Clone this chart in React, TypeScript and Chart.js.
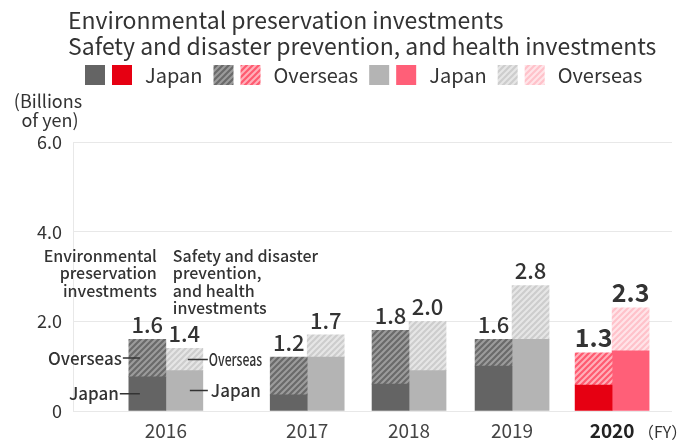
import React, { useEffect, useRef } from 'react';
import { Chart, registerables, CategoryScale } from 'chart.js';

Chart.register(...registerables);

// ---------------- data ----------------
const years = ['2016', '2017', '2018', '2019', '2020'];
const envJapan = [0.76, 0.36, 0.6, 1.0, 0.58];
const envOverseas = [0.84, 0.84, 1.2, 0.6, 0.72];
const safetyJapan = [0.9, 1.2, 0.9, 1.6, 1.34];
const safetyOverseas = [0.5, 0.5, 1.1, 1.2, 0.96];
const yTickValues = [0, 2, 4, 6];
const titleLines = [
  'Environmental preservation investments',
  'Safety and disaster prevention, and health investments',
];
const legendLabels = ['Japan', 'Overseas', 'Japan', 'Overseas'];
const envAnnotation = ['Environmental', 'preservation', 'investments'];
const safetyAnnotation = ['Safety and disaster', 'prevention,', 'and health', 'investments'];
const unitLines = ['(Billions', 'of yen)'];
const fyLabel = '（FY）';
const highlightIndex = years.length - 1;

// ---------------- layout / style ----------------
const FONT = "'Noto Sans CJK JP', 'Noto Sans', sans-serif";
const CATEGORY_POS = [0.155, 0.391, 0.561, 0.733, 0.9];

class SpacedCategoryScale extends CategoryScale {
  static id = 'spacedCategory';
  getPixelForValue(value: any) {
    if (typeof value !== 'number') value = (this as any).parse(value);
    if (value === null || value === undefined || isNaN(value)) return NaN;
    const i = Math.round(value);
    const pos = CATEGORY_POS[i] !== undefined ? CATEGORY_POS[i] : i / (years.length - 1);
    return this.getPixelForDecimal(pos);
  }
}
Chart.register(SpacedCategoryScale as any);

function hatch(bg: string, stripe: string, lw = 2.2): CanvasPattern | string {
  const s = 6;
  const c = document.createElement('canvas');
  c.width = s;
  c.height = s;
  const g = c.getContext('2d');
  if (!g) return bg;
  g.fillStyle = bg;
  g.fillRect(0, 0, s, s);
  g.strokeStyle = stripe;
  g.lineWidth = lw;
  g.beginPath();
  g.moveTo(-2, 2);
  g.lineTo(2, -2);
  g.moveTo(-1, s + 1);
  g.lineTo(s + 1, -1);
  g.moveTo(s - 2, s + 2);
  g.lineTo(s + 2, s - 2);
  g.stroke();
  return g.createPattern(c, 'repeat') || bg;
}

export default function App() {
  const ref = useRef<HTMLCanvasElement | null>(null);

  useEffect(() => {
    if (!ref.current) return;
    const C = {
      envJ: '#646464',
      envJHi: '#e60012',
      safJ: '#b4b4b4',
      safJHi: '#ff5f78',
      envO: hatch('#9c9c9c', '#6a6a6a'),
      envOHi: hatch('#ffb0ba', '#ff5a70'),
      safO: hatch('#e6e6e6', '#cdcdcd'),
      safOHi: hatch('#ffe4e8', '#ffc2ca'),
    };
    const pick = (normal: any, hi: any) => years.map((_, i) => (i === highlightIndex ? hi : normal));

    const decor = {
      id: 'decor',
      afterDatasetsDraw(chart: any) {
        const ctx = chart.ctx as CanvasRenderingContext2D;
        ctx.save();
        // value labels
        const sums = [
          { meta: chart.getDatasetMeta(1), a: envJapan, b: envOverseas },
          { meta: chart.getDatasetMeta(3), a: safetyJapan, b: safetyOverseas },
        ];
        ctx.textAlign = 'center';
        ctx.textBaseline = 'alphabetic';
        ctx.fillStyle = '#333';
        sums.forEach(({ meta, a, b }) => {
          meta.data.forEach((bar: any, i: number) => {
            const total = (a[i] + b[i]).toFixed(1);
            ctx.font = i === highlightIndex ? `bold 25px ${FONT}` : `500 22px ${FONT}`;
            ctx.fillText(total, bar.x, bar.y - 6);
          });
        });

        // 2016 annotations
        const eJ = chart.getDatasetMeta(0).data[0];
        const eO = chart.getDatasetMeta(1).data[0];
        const sJ = chart.getDatasetMeta(2).data[0];
        const sO = chart.getDatasetMeta(3).data[0];
        const envLeft = eJ.x - eJ.width / 2;
        const envRight = eJ.x + eJ.width / 2;
        const safLeft = sJ.x - sJ.width / 2;
        const safRight = sJ.x + sJ.width / 2;
        ctx.font = `500 16px ${FONT}`;
        ctx.textBaseline = 'middle';
        ctx.textAlign = 'right';
        envAnnotation.forEach((t, k) => ctx.fillText(t, envRight - 9, 256 + k * 17.3));
        ctx.textAlign = 'left';
        safetyAnnotation.forEach((t, k) => ctx.fillText(t, safLeft + 7, 256 + k * 17.3));

        const yEO = (eO.y + eO.base) / 2;
        const yEJ = (eJ.y + eJ.base) / 2;
        const ySO = (sO.y + sO.base) / 2;
        const ySJ = (sJ.y + sJ.base) / 2;
        ctx.strokeStyle = '#333';
        ctx.lineWidth = 1.5;
        ctx.beginPath();
        ctx.moveTo(envLeft - 6, yEO); ctx.lineTo(envLeft + 11, yEO);
        ctx.moveTo(envLeft - 9, yEJ); ctx.lineTo(envLeft + 11, yEJ);
        ctx.moveTo(safLeft + 22, ySO); ctx.lineTo(safRight + 5, ySO);
        ctx.moveTo(safLeft + 24, ySJ); ctx.lineTo(safRight + 5, ySJ);
        ctx.stroke();
        ctx.font = `500 17px ${FONT}`;
        ctx.textAlign = 'right';
        ctx.fillText(legendLabels[1], envLeft - 7, yEO);
        ctx.fillText(legendLabels[0], envLeft - 10, yEJ);
        ctx.textAlign = 'left';
        ctx.fillText(legendLabels[2], safRight + 8, ySJ);
        ctx.save();
        ctx.translate(safRight + 6, ySO);
        ctx.scale(0.72, 1);
        ctx.fillText(legendLabels[3], 0, 0);
        ctx.restore();
        ctx.restore();
      },
      afterDraw(chart: any) {
        const ctx = chart.ctx as CanvasRenderingContext2D;
        ctx.save();
        ctx.fillStyle = '#333';
        ctx.textBaseline = 'middle';
        ctx.textAlign = 'left';
        ctx.font = `23px ${FONT}`;
        ctx.fillText(titleLines[0], 68, 20);
        ctx.fillText(titleLines[1], 68, 46);

        // legend
        const groups = [
          { fills: [C.envJ, C.envJHi], label: legendLabels[0] },
          { fills: [C.envO, C.envOHi], label: legendLabels[1] },
          { fills: [C.safJ, C.safJHi], label: legendLabels[2] },
          { fills: [C.safO, C.safOHi], label: legendLabels[3] },
        ];
        ctx.font = `20px ${FONT}`;
        let x = 85;
        const sw = 20;
        const top = 65;
        groups.forEach((g) => {
          g.fills.forEach((f, k) => {
            ctx.fillStyle = f as any;
            ctx.fillRect(x, top, sw, sw);
            x += sw + (k === 0 ? 7 : 13);
          });
          ctx.fillStyle = '#333';
          ctx.fillText(g.label, x, top + sw / 2);
          x += ctx.measureText(g.label).width + 11;
        });

        // unit label
        ctx.font = `18px ${FONT}`;
        ctx.textAlign = 'center';
        ctx.fillText(unitLines[0], 48, 101);
        ctx.fillText(unitLines[1], 50, 120);

        // FY label
        ctx.font = `16px ${FONT}`;
        ctx.textAlign = 'left';
        ctx.fillText(fyLabel, 638, 432);
        ctx.restore();
      },
    };

    const chart = new Chart(ref.current, {
      type: 'bar',
      data: {
        labels: years,
        datasets: [
          { label: 'Environmental Japan', data: envJapan, stack: 'env', backgroundColor: pick(C.envJ, C.envJHi) },
          { label: 'Environmental Overseas', data: envOverseas, stack: 'env', backgroundColor: pick(C.envO, C.envOHi) },
          { label: 'Safety Japan', data: safetyJapan, stack: 'safety', backgroundColor: pick(C.safJ, C.safJHi) },
          { label: 'Safety Overseas', data: safetyOverseas, stack: 'safety', backgroundColor: pick(C.safO, C.safOHi) },
        ],
      },
      options: {
        responsive: false,
        animation: false,
        devicePixelRatio: 1,
        events: [],
        layout: { padding: { top: 142, right: 10, left: 0, bottom: 0 } },
        datasets: { bar: { barThickness: 37, borderWidth: 0 } },
        plugins: {
          legend: { display: false },
          title: { display: false },
          tooltip: { enabled: false },
        },
        scales: {
          x: {
            type: 'spacedCategory' as any,
            stacked: true,
            grid: { display: false },
            border: { display: false },
            ticks: {
              padding: 0,
              font: (c: any) => ({ family: FONT, size: 19, weight: c.index === highlightIndex ? 'bold' : 'normal' }),
              color: (c: any) => (c.index === highlightIndex ? '#222' : '#444'),
            },
            afterFit: (s: any) => { s.height = 32; },
          } as any,
          y: {
            stacked: true,
            min: yTickValues[0],
            max: yTickValues[yTickValues.length - 1],
            afterBuildTicks: (s: any) => { s.ticks = yTickValues.map((v) => ({ value: v })); },
            grid: { color: '#e8e8e8', drawTicks: false, lineWidth: 1 },
            border: { display: true, color: '#e8e8e8' },
            ticks: {
              padding: 11,
              color: '#333',
              font: { family: FONT, size: 18 },
              callback: (v: any) => (Number(v) === 0 ? '0' : Number(v).toFixed(1)),
            },
            afterFit: (s: any) => { s.width = 73; },
          },
        },
      },
      plugins: [decor],
    });
    return () => chart.destroy();
  }, []);

  return (
    <div style={{ position: 'fixed', left: 0, top: 0, width: 682, height: 443, background: '#fff' }}>
      <canvas ref={ref} width={682} height={443} style={{ display: 'block' }} />
    </div>
  );
}
